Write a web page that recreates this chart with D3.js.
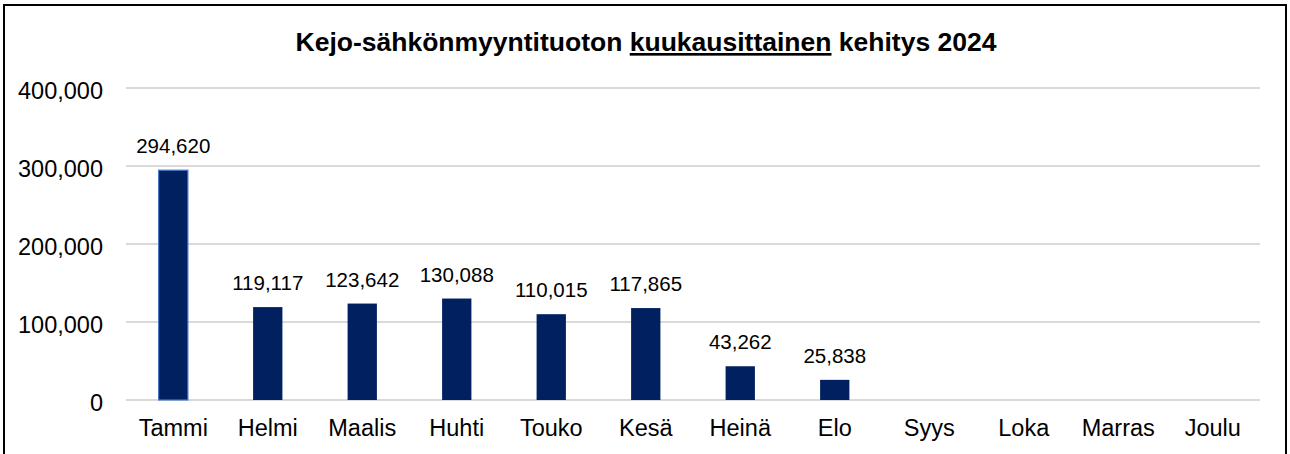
<!DOCTYPE html>
<html lang="fi">
<head>
<meta charset="UTF-8">
<title>Kejo-sähkönmyyntituotto 2024</title>
<style>
    body { margin: 0; background: #fff; }
    svg text { font-family: "Liberation Sans", Arial, sans-serif; fill: #000; }
    .title { font-size: 26.5px; font-weight: bold; }
    .axis text { font-size: 23.5px; }
    .value { font-size: 20.5px; }
</style>
<script src="https://cdn.jsdelivr.net/npm/d3@7"></script>
</head>
<body>
<svg id="chart"></svg>
<script>
// chart data
var months = ["Tammi", "Helmi", "Maalis", "Huhti", "Touko", "Kesä", "Heinä", "Elo", "Syys", "Loka", "Marras", "Joulu"];
var sales = [294620, 119117, 123642, 130088, 110015, 117865, 43262, 25838, null, null, null, null];
var yTicks = [0, 100000, 200000, 300000, 400000];

var svgWidth = 1290;
var svgHeight = 454;
var plotLeft = 126, plotRight = 1260, plotTop = 88, plotBottom = 400;

var svg = d3.select("#chart")
    .attr("width", svgWidth)
    .attr("height", svgHeight);

// outer frame
svg.append("rect")
    .attr("x", 4)
    .attr("y", 5)
    .attr("width", 1282)
    .attr("height", 460)
    .attr("fill", "none")
    .attr("stroke", "#000")
    .attr("stroke-width", 2);

var xs = d3.scaleBand().domain(months).range([plotLeft, plotRight]).paddingInner(0.69).paddingOuter(0.345);
var ys = d3.scaleLinear().domain([0, 400000]).range([plotBottom, plotTop]);
var fmt = d3.format(",");

// gridlines
svg.append("g")
    .selectAll("line")
    .data(yTicks)
    .enter()
    .append("line")
    .attr("x1", plotLeft)
    .attr("x2", plotRight)
    .attr("y1", function(d) { return ys(d); })
    .attr("y2", function(d) { return ys(d); })
    .attr("stroke", "#d9d9d9")
    .attr("stroke-width", 2);

// y axis labels
var yAxis = svg.append("g")
    .attr("class", "axis")
    .attr("transform", "translate(" + (plotLeft - 2) + ",3)")
    .call(d3.axisLeft(ys).tickValues(yTicks).tickFormat(fmt).tickSize(0).tickPadding(21));
yAxis.select(".domain").remove();

// x axis labels
var xAxis = svg.append("g")
    .attr("class", "axis")
    .attr("transform", "translate(0," + plotBottom + ")")
    .call(d3.axisBottom(xs).tickSize(0).tickPadding(19));
xAxis.select(".domain").remove();

var barData = months.map(function(m, i) { return {month: m, value: sales[i]}; })
    .filter(function(d) { return d.value != null; });

// bars
svg.append("g")
    .selectAll("rect")
    .data(barData)
    .enter()
    .append("rect")
    .attr("x", function(d) { return xs(d.month); })
    .attr("y", function(d) { return ys(d.value); })
    .attr("width", xs.bandwidth())
    .attr("height", function(d) { return plotBottom - ys(d.value); })
    .attr("fill", "#002060")
    .attr("stroke", function(d, i) { return i == 0 ? "#4a78c8" : "none"; })
    .attr("stroke-width", 1.2);

// value labels
svg.append("g")
    .selectAll("text")
    .data(barData)
    .enter()
    .append("text")
    .attr("class", "value")
    .attr("x", function(d) { return xs(d.month) + xs.bandwidth() / 2; })
    .attr("y", function(d) { return ys(d.value) - 17; })
    .attr("text-anchor", "middle")
    .text(function(d) { return fmt(d.value); });

// title with underlined word
var title = svg.append("text")
    .attr("class", "title")
    .attr("x", 646)
    .attr("y", 51)
    .attr("text-anchor", "middle");
title.append("tspan").text("Kejo-sähkönmyyntituoton ");
title.append("tspan").style("text-decoration", "underline").text("kuukausittainen");
title.append("tspan").text(" kehitys 2024");
</script>
</body>
</html>
